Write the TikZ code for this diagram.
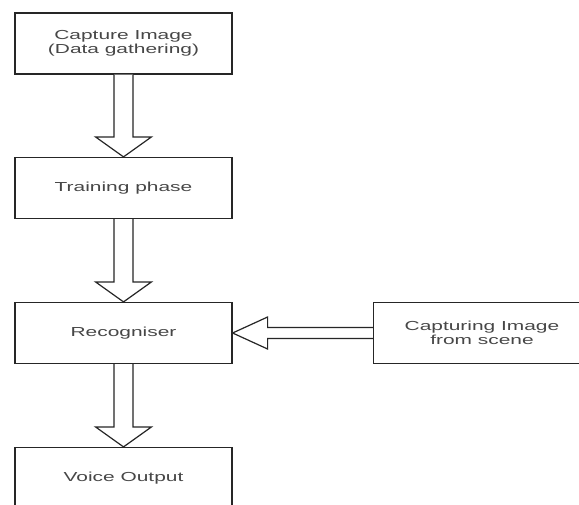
\documentclass[tikz,border=0pt]{standalone}
\usepackage{fontspec}
\setmainfont{Liberation Sans}[FakeStretch=1.6]
\usetikzlibrary{calc}
\begin{document}
\begin{tikzpicture}[x=0.75pt,y=-0.75pt,
  box/.style={draw=black!85,line width=0.9pt,fill=white,inner sep=0pt,
    minimum width=162.75pt,minimum height=45.75pt,align=center,
    text=black!72,font=\fontsize{9.8}{10.5}\selectfont},
  blk/.style={draw=black!85,line width=0.9pt,fill=white,line join=miter}]
\useasboundingbox (0,0) rectangle (579,504);
\clip (0,0) rectangle (579,504);
\fill[white] (0,0) rectangle (579,504);
\node[box] (cap) at (123.5,43.5) {Capture Image\\(Data gathering)};
\node[box] (train) at (123.5,188) {Training phase};
\node[box] (rec) at (123.5,333) {Recogniser};
\node[box] (voice) at (123.5,478) {Voice Output};
\node[box] (scene) at (482,333) {Capturing Image\\from scene};
\foreach \a/\b in {cap/train,train/rec,rec/voice}{
  \draw[blk] ($(\a.south)+(-9.5,0)$) -- ($(\b.north)+(-9.5,-20)$)
    -- ($(\b.north)+(-28,-20)$) -- (\b.north) -- ($(\b.north)+(28,-20)$)
    -- ($(\b.north)+(9.5,-20)$) -- ($(\a.south)+(9.5,0)$);
}
\draw[blk] ($(scene.west)+(0,-5.5)$) -- ($(rec.east)+(35,-5.5)$)
  -- ($(rec.east)+(35,-16)$) -- (rec.east) -- ($(rec.east)+(35,16)$)
  -- ($(rec.east)+(35,5.5)$) -- ($(scene.west)+(0,5.5)$);
\end{tikzpicture}
\end{document}
